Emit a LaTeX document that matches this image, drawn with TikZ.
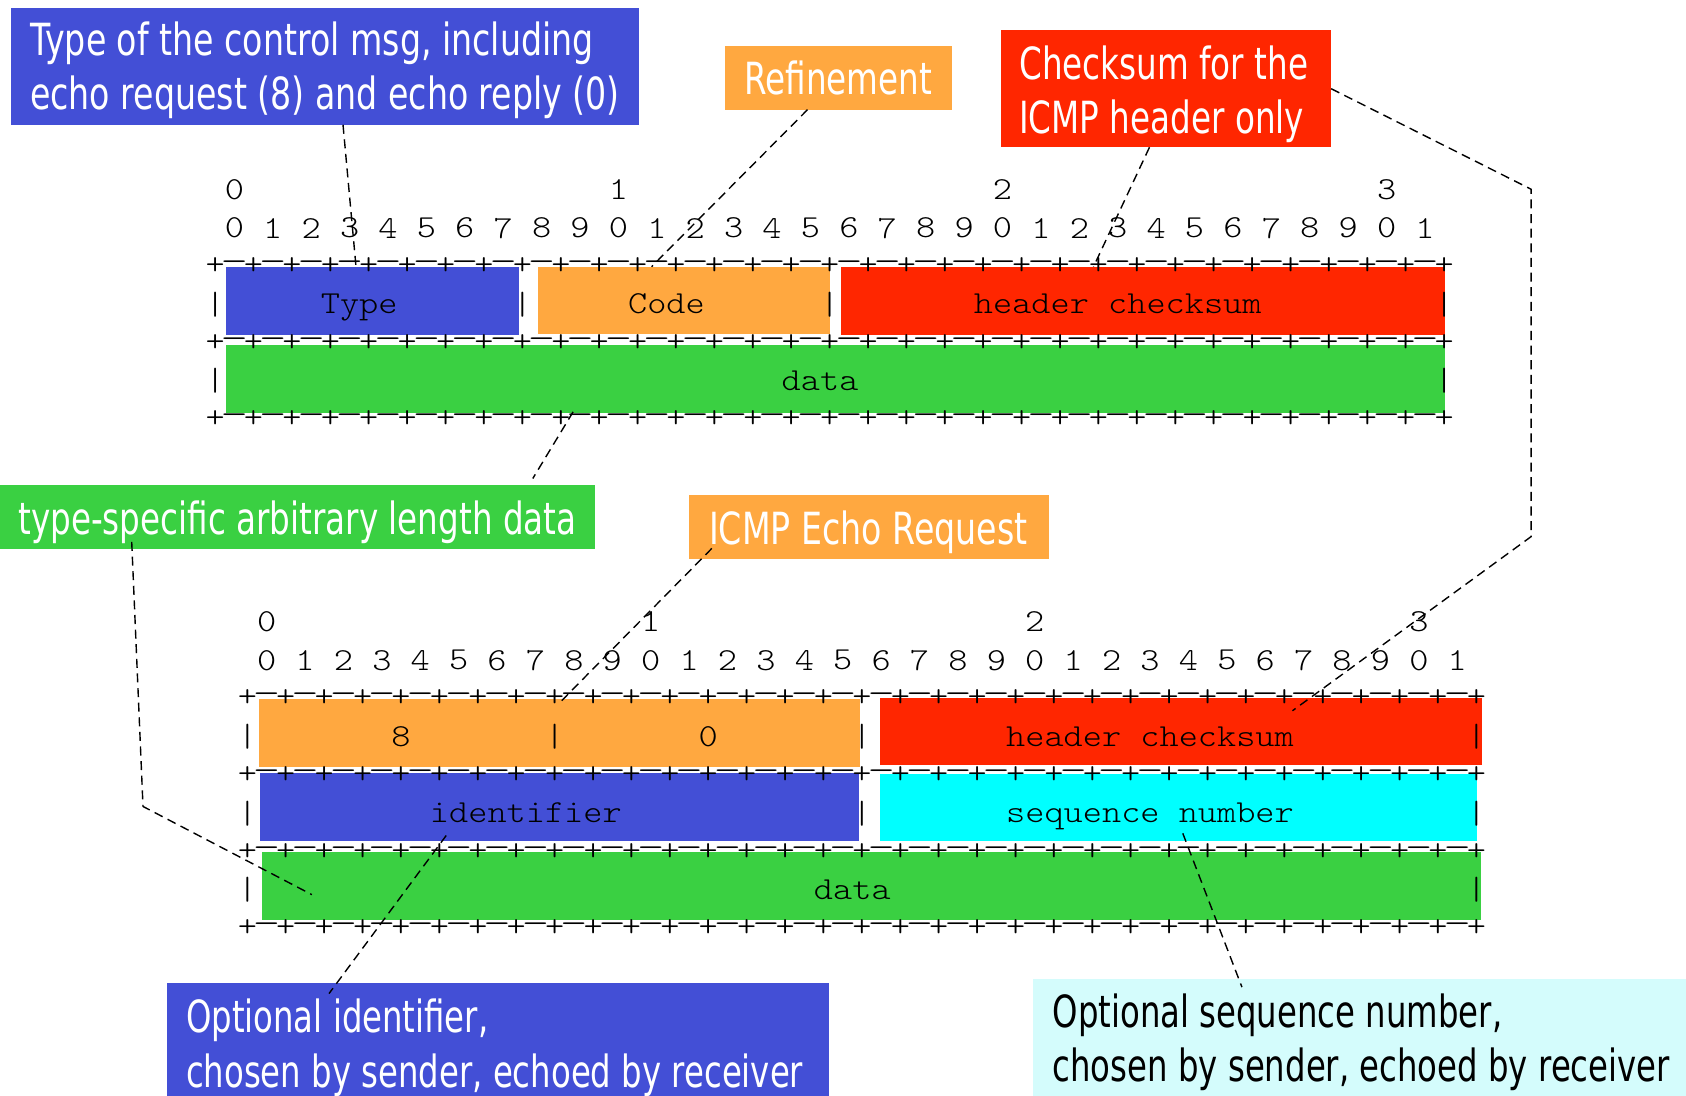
\documentclass[tikz,border=0pt]{standalone}
\usepackage{fontspec}
\usetikzlibrary{calc}
\newfontfamily\calloutfont[FakeStretch=0.736]{DejaVu Sans}
\newfontfamily\calloutwide[FakeStretch=0.75]{DejaVu Sans}
\newfontfamily\calloutnarrow[FakeStretch=0.73]{DejaVu Sans}
\newfontfamily\asciifont[FakeStretch=1.14]{lmmonolt10-regular.otf}

\definecolor{fieldblue}{HTML}{434FD6}
\definecolor{fieldorange}{HTML}{FFA840}
\definecolor{fieldred}{HTML}{FF2600}
\definecolor{fieldgreen}{HTML}{3AD042}
\definecolor{fieldcyan}{HTML}{00FFFF}
\definecolor{notepale}{HTML}{D4FCFC}

\tikzset{
  mono/.style={font=\asciifont\fontsize{14.9}{17}\selectfont, inner sep=0pt, outer sep=0pt},
  callbox/.style={rectangle, inner sep=0pt, outer sep=0pt, draw=none},
  notetext/.style={font=\calloutfont\fontsize{20.6}{25}\selectfont, text=white, inner sep=0pt, outer sep=0pt},
  notewide/.style={notetext, font=\calloutwide\fontsize{20.6}{25}\selectfont},
  notenarrow/.style={notetext, font=\calloutnarrow\fontsize{20.6}{25}\selectfont},
  lead/.style={draw=black, line width=0.65pt, dash pattern=on 4.2pt off 2.6pt},
}

% one character cell of the ASCII layout is 17.86 units wide
% #1 name prefix, #2 x of column 0, #3 y of decade row, #4 y of bit row
\newcommand\asciiruler[4]{%
  \foreach \bitno in {0,...,31}{%
    \pgfmathtruncatemacro\bitdigit{mod(\bitno,10)}%
    \node[mono, anchor=center] (#1bit\bitno) at ({#2+17.86*(1+2*\bitno)},#4) {\bitdigit};%
  }%
  \foreach \bitno/\decade in {0/0,10/1,20/2,30/3}{%
    \node[mono, anchor=center] (#1dec\decade) at ({#2+17.86*(1+2*\bitno)},#3) {\decade};%
  }%
}
% +-+-+ separator line: #1 name prefix, #2 x of column 0, #3 y
\newcommand\asciiborder[3]{%
  \foreach \col in {0,...,64}{%
    \pgfmathtruncatemacro\cellodd{mod(\col,2)}%
    \ifnum\cellodd=0
      \node[mono, anchor=center] (#1-\col) at ({#2+17.86*\col},#3) {+};%
    \else
      \node[mono, anchor=center] (#1-\col) at ({#2+17.86*\col},#3) {\scalebox{1.45}[1]{-}};%
    \fi
  }%
}
% field separator: #1 name, #2 x of column 0, #3 column, #4 y
\newcommand\asciibar[4]{\node[mono, anchor=center] (#1) at ({#2+17.86*(#3)},#4) {|};}
% field label centred on a column: #1 name, #2 x of column 0, #3 column, #4 y, #5 text
\newcommand\asciilabel[5]{\node[mono, anchor=base] (#1) at ({#2+17.86*(#3)},{#4+8.5}) {#5};}

\begin{document}
\begin{tikzpicture}[x=0.5pt,y=-0.5pt]
\fill[white] (0,0) rectangle (1568,1019);
\useasboundingbox (0,0) rectangle (1568,1019);

% ---------- generic ICMP header: coloured fields ----------
\fill[fieldblue]   (210,248.6) rectangle (483,311.3);
\fill[fieldorange] (500,248.6) rectangle (772,310.5);
\fill[fieldred]    (782,248.6) rectangle (1343.5,311.3);
\fill[fieldgreen]  (210,321)   rectangle (1343.5,383.8);

% ---------- echo request header: coloured fields ----------
\fill[fieldorange] (241,650) rectangle (800,713);
\fill[fieldred]    (818,649) rectangle (1378,711.5);
\fill[fieldblue]   (242,719) rectangle (799,782);
\fill[fieldcyan]   (818,720) rectangle (1374,782.5);
\fill[fieldgreen]  (244,792) rectangle (1377,855.6);

% ---------- generic ICMP header: ASCII layout ----------
\asciiruler{top}{200.1}{176.7}{212.2}
\asciiborder{topA}{200.1}{247.8}
\asciiborder{topB}{200.1}{318.8}
\asciiborder{topC}{200.1}{389.9}
\asciibar{topbarA0}{200.1}{0}{283.3}
\asciibar{topbarA16}{200.1}{16}{283.3}
\asciibar{topbarA32}{200.1}{32}{283.3}
\asciibar{topbarA64}{200.1}{64}{283.3}
\asciibar{topbarB0}{200.1}{0}{354.4}
\asciibar{topbarB64}{200.1}{64}{354.4}
\asciilabel{toptype}{200.1}{7.5}{283.3}{Type}
\asciilabel{topcode}{200.1}{23.5}{283.3}{Code}
\asciilabel{topsum}{200.1}{47}{283.3}{header checksum}
\asciilabel{topdata}{200.1}{31.5}{354.4}{data}

% ---------- echo request header: ASCII layout ----------
\asciiruler{low}{230.1}{578.4}{614}
\asciiborder{lowA}{230.1}{649.6}
\asciiborder{lowB}{230.1}{720.9}
\asciiborder{lowC}{230.1}{792.1}
\asciiborder{lowD}{230.1}{863.4}
\asciibar{lowbarA0}{230.1}{0}{685.3}
\asciibar{lowbarA16}{230.1}{16}{685.3}
\asciibar{lowbarA32}{230.1}{32}{685.3}
\asciibar{lowbarA64}{230.1}{64}{685.3}
\asciibar{lowbarB0}{230.1}{0}{756.5}
\asciibar{lowbarB32}{230.1}{32}{756.5}
\asciibar{lowbarB64}{230.1}{64}{756.5}
\asciibar{lowbarC0}{230.1}{0}{827.7}
\asciibar{lowbarC64}{230.1}{64}{827.7}
\asciilabel{lowtype}{230.1}{8}{685.3}{8}
\asciilabel{lowcode}{230.1}{24}{685.3}{0}
\asciilabel{lowsum}{230.1}{47}{685.3}{header checksum}
\asciilabel{lowid}{230.1}{14.5}{756.5}{identifier}
\asciilabel{lowseq}{230.1}{47}{756.5}{sequence number}
\asciilabel{lowdata}{230.1}{31.5}{827.7}{data}

% ---------- callouts ----------
\node[callbox, fill=fieldblue, minimum width=292pt, minimum height=54.5pt] (typenote) at (302,61.5) {};
\node[notewide, anchor=base west] (typenote1) at (28,52) {Type of the control msg, including};
\node[notewide, anchor=base west] (typenote2) at (28,102) {echo request (8) and echo reply (0)};

\node[callbox, fill=fieldorange, minimum width=105.5pt, minimum height=29.5pt] (refnote) at (779.5,72.5) {};
\node[notetext, anchor=base] (refnote1) at (779.5,87.5) {Refinement};

\node[callbox, fill=fieldred, minimum width=153.5pt, minimum height=54.5pt] (sumnote) at (1084.5,82.5) {};
\node[notetext, anchor=base west] (sumnote1) at (948,74) {Checksum for the};
\node[notetext, anchor=base west] (sumnote2) at (948,124) {ICMP header only};

\node[callbox, fill=fieldgreen, minimum width=276.5pt, minimum height=30pt] (datanote) at (276.5,481) {};
\node[notetext, anchor=base west] (datanote1) at (17,497) {type-specific arbitrary length data};

\node[callbox, fill=fieldorange, minimum width=167.5pt, minimum height=30pt] (echonote) at (808.5,490) {};
\node[notewide, anchor=base] (echonote1) at (807.5,506) {ICMP Echo Request};

\node[callbox, fill=fieldblue, minimum width=308pt, minimum height=52.5pt] (idnote) at (463,966.5) {};
\node[notenarrow, anchor=base west] (idnote1) at (173,960) {Optional identifier,};
\node[notenarrow, anchor=base west] (idnote2) at (173,1011) {chosen by sender, echoed by receiver};

\node[callbox, fill=notepale, minimum width=303.5pt, minimum height=54.5pt] (seqnote) at (1264.5,964.5) {};
\node[notenarrow, text=black, anchor=base west] (seqnote1) at (979,956) {Optional sequence number,};
\node[notenarrow, text=black, anchor=base west] (seqnote2) at (979,1006) {chosen by sender, echoed by receiver};

% ---------- dashed leader lines ----------
\coordinate (typehit) at (331,247);
\draw[lead] ($(typenote.south)+(17,0)$) -- (typehit);

\coordinate (codehit) at (606,248);
\draw[lead] ($(refnote.south)+(-28.5,0)$) -- (codehit);

\coordinate (sumhit) at (1017,248);
\draw[lead] ($(sumnote.south)+(-15.5,0)$) -- (sumhit);

\coordinate (sumbendA) at (1424,176);
\coordinate (sumbendB) at (1424,499);
\coordinate (sumhitlow) at (1202,661);
\draw[lead] (sumnote.east) -- (sumbendA) -- (sumbendB) -- (sumhitlow);

\coordinate (datahit) at (533,383);
\draw[lead] (datahit) -- ($(datanote.north)+(219,-6)$);

\coordinate (databend) at (133,750);
\coordinate (datahitlow) at (290,832);
\draw[lead] ($(datanote.south)+(-154,-7)$) -- (databend) -- (datahitlow);

\coordinate (echohit) at (520,654);
\draw[lead] ($(echonote.center)+(-146.5,20)$) -- (echohit);

\coordinate (idhit) at (415,777);
\draw[lead] (idhit) -- ($(idnote.north)+(-157,10)$);

\coordinate (seqhit) at (1100,775);
\draw[lead] (seqhit) -- ($(seqnote.north)+(-109.5,8)$);
\end{tikzpicture}
\end{document}
